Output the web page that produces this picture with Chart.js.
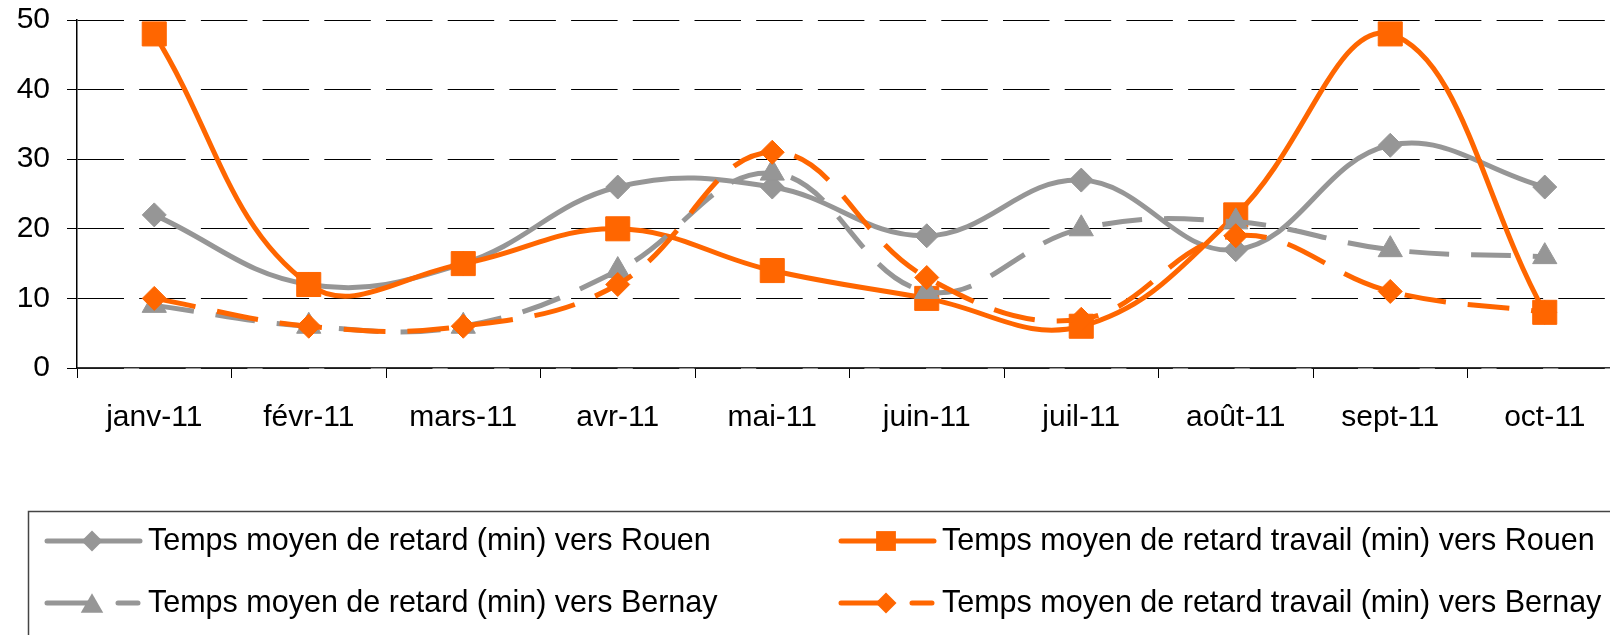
<!DOCTYPE html>
<html>
<head>
<meta charset="utf-8">
<script src="https://cdn.jsdelivr.net/npm/chart.js@4.4.0/dist/chart.umd.min.js"></script>
<style>
  html, body { margin: 0; padding: 0; background: #fff; overflow: hidden; width: 1610px; height: 635px; }
  canvas { position: absolute; left: 0; top: 0; }
</style>
</head>
<body>
<canvas id="chart" width="1640" height="635"></canvas>
<script>
const months = ['janv-11', 'févr-11', 'mars-11', 'avr-11', 'mai-11', 'juin-11', 'juil-11', 'août-11', 'sept-11', 'oct-11'];
const retardRouen   = [22, 12, 15, 26, 26, 19, 27, 17, 32, 26];
const travailRouen  = [48, 12, 15, 20, 14, 10, 6, 22, 48, 8];
const retardBernay  = [9, 6, 6, 14, 28, 11, 20, 21, 17, 16];
const travailBernay = [10, 6, 6, 12, 31, 13, 7, 19, 11, 8];
const yTicks = [0, 10, 20, 30, 40, 50];

const GREY = '#969696';
const ORANGE = '#ff6600';
const FONT = '"Liberation Sans", Arial, sans-serif';

function series(label, data, color, style, radius, dash, order) {
  return {
    label: label,
    data: data,
    borderColor: color,
    backgroundColor: color,
    pointBackgroundColor: color,
    pointBorderColor: color,
    pointBorderWidth: 1,
    pointStyle: style,
    pointRadius: radius,
    pointHoverRadius: radius,
    borderWidth: 5,
    borderDash: dash,
    tension: 0.4,
    order: order
  };
}

// draw one marker the same way chart.js shapes it
function marker(ctx, style, r, x, y, color) {
  ctx.fillStyle = color;
  ctx.beginPath();
  if (style === 'rect') {
    let s = r * Math.SQRT1_2;
    ctx.rect(x - s, y - s, 2 * s, 2 * s);
  } else if (style === 'rectRot') {
    ctx.moveTo(x - r, y); ctx.lineTo(x, y - r); ctx.lineTo(x + r, y); ctx.lineTo(x, y + r);
  } else if (style === 'triangle') {
    // centred on its box, like the excel legend
    ctx.moveTo(x, y - r * 0.75);
    ctx.lineTo(x + r * 0.866, y + r * 0.75);
    ctx.lineTo(x - r * 0.866, y + r * 0.75);
  }
  ctx.closePath();
  ctx.fill();
}

const boxLegend = {
  id: 'boxLegend',
  afterDraw(chart) {
    const ctx = chart.ctx;
    ctx.save();
    ctx.strokeStyle = '#444';
    ctx.lineWidth = 1.5;
    ctx.strokeRect(28.5, 511.5, 1700, 200);

    const spots = [[47, 541], [841, 541], [47, 603], [841, 603]];
    const sizes = { rect: 14, rectRot: 10.5, triangle: 13 };
    [0, 1, 2, 3].forEach(function (i) {
      const d = chart.data.datasets[i];
      const x = spots[i][0], y = spots[i][1];
      ctx.strokeStyle = d.borderColor;
      ctx.lineWidth = 5;
      ctx.lineCap = 'round';
      ctx.beginPath();
      if (d.borderDash.length) {
        ctx.moveTo(x, y); ctx.lineTo(x + 45, y);
        ctx.moveTo(x + 71, y); ctx.lineTo(x + 91, y);
      } else {
        ctx.moveTo(x, y); ctx.lineTo(x + 93, y);
      }
      ctx.stroke();
      marker(ctx, d.pointStyle, sizes[d.pointStyle], x + 45, y, d.borderColor);
      ctx.fillStyle = '#000';
      ctx.font = '30.5px ' + FONT;
      ctx.textBaseline = 'middle';
      ctx.textAlign = 'left';
      ctx.fillText(d.label, x + 101, y + 1);
    });
    ctx.restore();
  }
};

new Chart(document.getElementById('chart'), {
  type: 'line',
  data: {
    labels: months,
    datasets: [
      series('Temps moyen de retard (min) vers Rouen', retardRouen, GREY, 'rectRot', 12, [], 4),
      series('Temps moyen de retard travail (min) vers Rouen', travailRouen, ORANGE, 'rect', 17, [], 3),
      series('Temps moyen de retard (min) vers Bernay', retardBernay, GREY, 'triangle', 14, [40, 22], 2),
      series('Temps moyen de retard travail (min) vers Bernay', travailBernay, ORANGE, 'rectRot', 12, [42, 22], 1)
    ]
  },
  options: {
    responsive: false,
    animation: false,
    events: [],
    layout: { padding: { left: 0, right: 18, top: 20, bottom: 0 } },
    plugins: { legend: { display: false }, tooltip: { enabled: false } },
    scales: {
      x: {
        offset: true,
        afterFit(scale) { scale.height = 267; },
        grid: { display: true, drawOnChartArea: false, offset: true, tickLength: 10, color: '#000', lineWidth: 1 },
        border: { display: true, color: '#333', width: 1.5 },
        ticks: { color: '#000', font: { family: FONT, size: 30 }, padding: 22, maxRotation: 0, autoSkip: false }
      },
      y: {
        min: 0,
        max: 50,
        afterFit(scale) {
          scale.width = 77;
          scale.paddingTop = 0;
          scale.paddingBottom = 0;
        },
        afterBuildTicks(scale) { scale.ticks = yTicks.map(v => ({ value: v })); },
        grid: { color: '#000', lineWidth: 1, tickLength: 10, tickBorderDash: [] },
        border: { display: true, color: '#000', width: 1.5, dash: [46.5, 15.2] },
        ticks: { color: '#000', font: { family: FONT, size: 30 }, padding: 17 }
      }
    }
  },
  plugins: [boxLegend]
});
</script>
</body>
</html>
